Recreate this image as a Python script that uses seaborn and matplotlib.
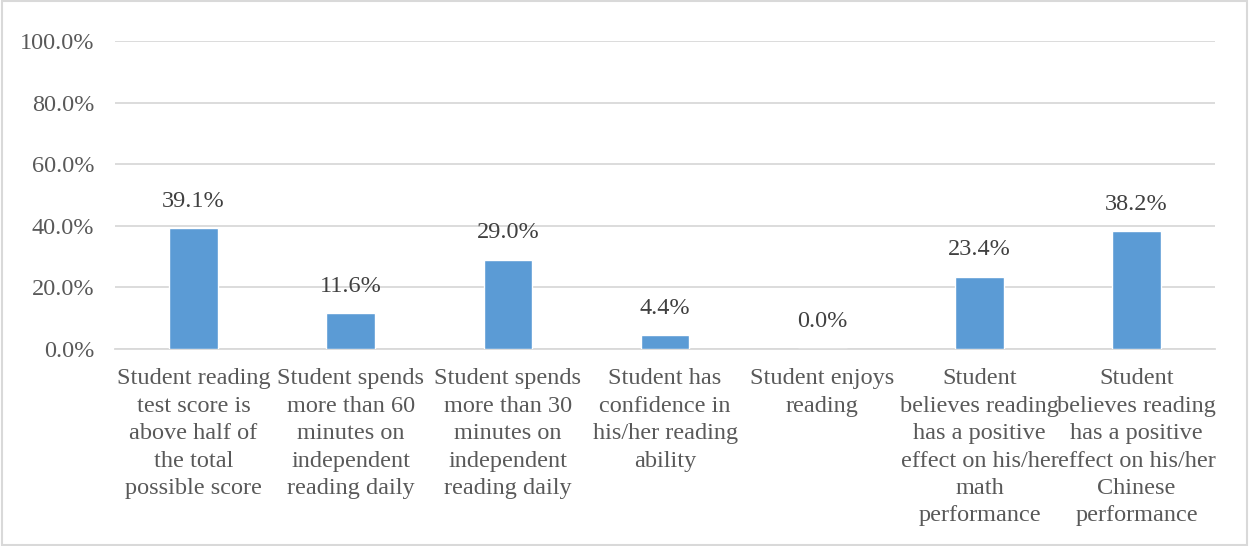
import matplotlib
matplotlib.use("Agg")
import matplotlib.pyplot as plt
import seaborn as sns
import pandas as pd
from matplotlib.patches import Rectangle
from matplotlib.ticker import FuncFormatter, MultipleLocator

categories = [
    "Student reading\ntest score is\nabove half of\nthe total\npossible score",
    "Student spends\nmore than 60\nminutes on\nindependent\nreading daily",
    "Student spends\nmore than 30\nminutes on\nindependent\nreading daily",
    "Student has\nconfidence in\nhis/her reading\nability",
    "Student enjoys\nreading",
    "Student\nbelieves reading\nhas a positive\neffect on his/her\nmath\nperformance",
    "Student\nbelieves reading\nhas a positive\neffect on his/her\nChinese\nperformance",
]
values = [39.1, 11.6, 29.0, 4.4, 0.0, 23.4, 38.2]

sns.set_style("white")
plt.rcParams["font.family"] = ["Liberation Serif", "DejaVu Serif"]

df = pd.DataFrame({"cat": categories, "val": values})

fig = plt.figure(figsize=(12.49, 5.46), dpi=100)
ax = fig.add_axes([0.092, 0.361, 0.881, 0.564])

sns.barplot(data=df, x="cat", y="val", color="#5B9BD5", width=0.31, saturation=1, ax=ax, zorder=3)

ax.set_ylim(0, 100)
ax.yaxis.set_major_locator(MultipleLocator(20))
ax.yaxis.set_major_formatter(FuncFormatter(lambda v, p: f"{v:.1f}%"))
ax.grid(axis="y", color="#D9D9D9", linewidth=1.3, zorder=0)
ax.set_axisbelow(True)
for s in ["top", "right", "left"]:
    ax.spines[s].set_visible(False)
ax.spines["bottom"].set_color("#D9D9D9")
ax.spines["bottom"].set_linewidth(1.3)
ax.set_xlabel("")
ax.set_ylabel("")
ax.tick_params(axis="both", length=0, labelsize=17.5, labelcolor="#595959")
ax.tick_params(axis="y", pad=15)
ax.tick_params(axis="x", pad=14)
for lbl in ax.get_xticklabels():
    lbl.set_linespacing(1.4)
    lbl.set_verticalalignment("top")

for i, v in enumerate(values):
    ax.annotate(f"{v:.1f}%", (i, v), xytext=(0, 12), textcoords="offset points",
                ha="center", va="bottom", fontsize=17.5, color="#404040")

fig.patches.append(Rectangle((0.002, 0.002), 0.996, 0.996, transform=fig.transFigure,
                             fill=False, edgecolor="#D9D9D9", linewidth=1.5))

fig.savefig("out.png", dpi=100)
